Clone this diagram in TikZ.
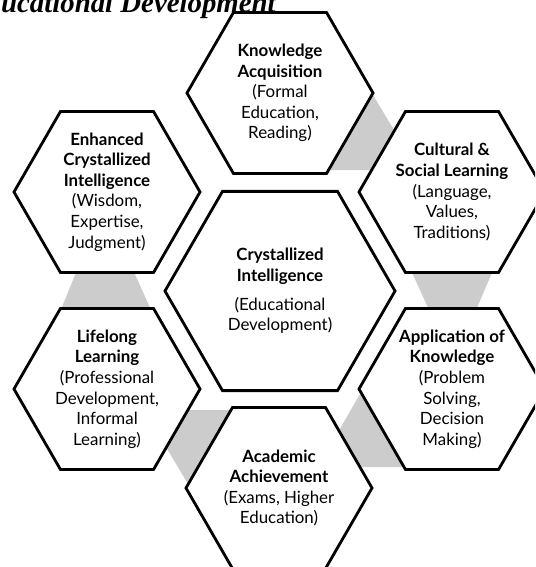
\documentclass[tikz,border=0pt]{standalone}
\usepackage{fontspec}
\setmainfont{Lato}
\newfontfamily\headfont{Liberation Serif}
\usetikzlibrary{shapes.geometric,calc,backgrounds}

\tikzset{
  hexa/.style={regular polygon, regular polygon sides=6, draw, line width=2pt,
    fill=white, inner sep=0pt, minimum size=4.65cm},
  hexcore/.style={hexa, minimum size=5.75cm},
  hextext/.style={align=center, inner sep=0pt, font=\fontsize{12}{14.6}\selectfont},
  link/.style={fill=black!20},
}

\begin{document}
\begin{tikzpicture}[x=0.025cm, y=-0.025cm]
    \clip (0,0) rectangle (535,567);

    \node[anchor=base east, inner sep=0pt, font=\headfont\bfseries\itshape\fontsize{20.5}{24}\selectfont] (head) at (276,12) {Educational Development};

    % the seven hexagons
    \node[hexcore] (core) at (280,291) {};
    \node[hexa] (know) at (280,93) {};
    \node[hexa] (cult) at (452,192) {};
    \node[hexa] (appl) at (452,389) {};
    \node[hexa] (acad) at (279,488) {};
    \node[hexa] (life) at (107,389) {};
    \node[hexa] (enh) at (107,192) {};

    \node[hextext] (core-t) at (core) {\textbf{Crystallized}\\\textbf{Intelligence}\\[6pt](Educational\\Development)};
    \node[hextext] (know-t) at (know) {\textbf{Knowledge}\\\textbf{Acquisition}\\(Formal\\Education,\\Reading)};
    \node[hextext] (cult-t) at (cult) {\textbf{Cultural \&}\\\textbf{Social Learning}\\(Language,\\Values,\\Traditions)};
    \node[hextext] (appl-t) at (appl) {\textbf{Application of}\\\textbf{Knowledge}\\(Problem\\Solving,\\Decision\\Making)};
    \node[hextext] (acad-t) at (acad) {\textbf{Academic}\\\textbf{Achievement}\\(Exams, Higher\\Education)};
    \node[hextext] (life-t) at (life) {\textbf{Lifelong}\\\textbf{Learning}\\(Professional\\Development,\\Informal\\Learning)};
    \node[hextext] (enh-t) at (enh) {\textbf{Enhanced}\\\textbf{Crystallized}\\\textbf{Intelligence}\\(Wisdom,\\Expertise,\\Judgment)};

    % grey links behind the hexagons
    \begin{scope}[on background layer]
        \fill[link] ($(know)+(93,2)$) -- ($(know)+(138,77)$) -- ($(know)+(40,77)$) -- cycle;
        \fill[link] ($(cult)+(-42,76)$) -- ($(cult)+(42,76)$) -- ($(appl)+(24,-79)$) -- ($(appl)+(-23,-79)$) -- cycle;
        \fill[link] ($(appl)+(-92,5)$) -- ($(appl)+(-42,78)$) -- ($(acad)+(39,-21)$) -- cycle;
        \fill[link] ($(acad)+(-91,-4)$) -- ($(life)+(37,21)$) -- ($(acad)+(-39,-78)$) -- cycle;
        \fill[link] ($(enh)+(-30,78)$) -- ($(enh)+(26,78)$) -- ($(life)+(45,-77)$) -- ($(life)+(-47,-77)$) -- cycle;
    \end{scope}
\end{tikzpicture}
\end{document}
